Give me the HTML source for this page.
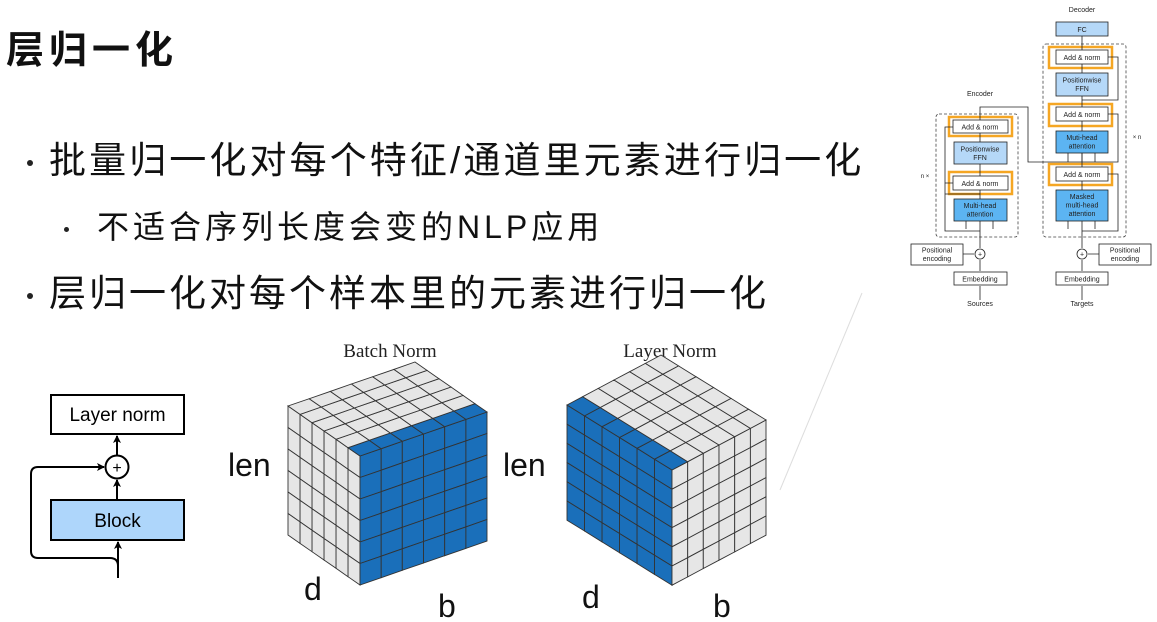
<!DOCTYPE html>
<html><head><meta charset="utf-8"><style>
html,body{margin:0;padding:0;background:#fff;}
body{width:1157px;height:622px;position:relative;overflow:hidden;font-family:"Liberation Sans","Noto Sans CJK SC",sans-serif;}
.t{position:absolute;white-space:nowrap;color:#111;line-height:1;}
.d{position:absolute;width:6px;height:6px;border-radius:50%;background:#222;}
</style></head><body>
<div class="t" style="left:6px;top:32px;font-size:38px;font-weight:bold;letter-spacing:5px;">层归一化</div>
<div class="d" style="left:27px;top:160px;"></div>
<div class="t" style="left:49px;top:142px;font-size:37px;letter-spacing:3.1px;">批量归一化对每个特征/通道里元素进行归一化</div>
<div class="d" style="left:64px;top:227px;width:5px;height:5px;"></div>
<div class="t" style="left:97px;top:211px;font-size:32px;letter-spacing:4px;">不适合序列长度会变的NLP应用</div>
<div class="d" style="left:27px;top:293px;"></div>
<div class="t" style="left:49px;top:275px;font-size:37px;letter-spacing:3px;">层归一化对每个样本里的元素进行归一化</div>

<svg id="s" width="1157" height="622" style="position:absolute;left:0;top:0" xmlns="http://www.w3.org/2000/svg">
<defs><marker id="ar" markerWidth="8" markerHeight="8" refX="7" refY="4" orient="auto" markerUnits="userSpaceOnUse"><path d="M0,0 L8,4 L0,8 L2,4z" fill="#000"/></marker></defs>
<line x1="862" y1="293" x2="780" y2="490" stroke="#ddd" stroke-width="1"/>
<rect x="51" y="395" width="133" height="39" fill="#fff" stroke="#000" stroke-width="2"/>
<text x="117.5" y="421" font-size="19" text-anchor="middle" font-family="Liberation Sans">Layer norm</text>
<rect x="51" y="500" width="133" height="40" fill="#aed6fb" stroke="#000" stroke-width="2"/>
<text x="117.5" y="527" font-size="19" text-anchor="middle" font-family="Liberation Sans">Block</text>
<circle cx="117" cy="467" r="11.5" fill="#fff" stroke="#000" stroke-width="2"/>
<text x="117" y="473" font-size="16" text-anchor="middle" font-family="Liberation Sans">+</text>
<line x1="118" y1="578" x2="118" y2="542" stroke="#000" stroke-width="2" marker-end="url(#ar)"/>
<line x1="117" y1="499" x2="117" y2="480" stroke="#000" stroke-width="2" marker-end="url(#ar)"/>
<line x1="117" y1="455" x2="117" y2="436" stroke="#000" stroke-width="2" marker-end="url(#ar)"/>
<path d="M118,578 L118,566 Q118,558 110,558 L38,558 Q31,558 31,551 L31,474 Q31,467 38,467 L104,467" fill="none" stroke="#000" stroke-width="2" marker-end="url(#ar)"/>
<text x="390" y="357" font-size="19" text-anchor="middle" font-family="Liberation Serif" fill="#222">Batch Norm</text>
<text x="670" y="357" font-size="19" text-anchor="middle" font-family="Liberation Serif" fill="#222">Layer Norm</text>
<text x="228" y="476" font-size="32" font-family="Liberation Sans" fill="#111">len</text>
<text x="503" y="476" font-size="32" font-family="Liberation Sans" fill="#111">len</text>
<text x="304" y="600" font-size="32" font-family="Liberation Sans" fill="#111">d</text>
<text x="438" y="617" font-size="32" font-family="Liberation Sans" fill="#111">b</text>
<text x="582" y="608" font-size="32" font-family="Liberation Sans" fill="#111">d</text>
<text x="713" y="617" font-size="32" font-family="Liberation Sans" fill="#111">b</text>
<g id="cubes"></g>
<g font-family="Liberation Sans" font-size="7" text-anchor="middle" fill="#222" stroke-width="0.8">
<text x="980" y="96">Encoder</text>
<text x="1082" y="12">Decoder</text>
<text x="925" y="178" font-size="6">n ×</text>
<text x="1137" y="139" font-size="6">× n</text>
<rect x="936" y="114" width="82" height="123" fill="none" stroke="#444" stroke-dasharray="3,2" rx="3"/>
<rect x="1043" y="44" width="83" height="193" fill="none" stroke="#444" stroke-dasharray="3,2" rx="3"/>
<rect x="949" y="117" width="63" height="19" fill="none" stroke="#f5a623" stroke-width="2.5"/>
<rect x="953" y="120" width="55" height="13" fill="#fff" stroke="#222"/>
<text x="980" y="129.5">Add &amp; norm</text>
<rect x="954" y="142" width="53" height="22" fill="#b5d8f8" stroke="#222"/>
<text x="980" y="151.5">Positionwise</text><text x="980" y="160">FFN</text>
<rect x="949" y="172" width="63" height="22" fill="none" stroke="#f5a623" stroke-width="2.5"/>
<rect x="953" y="176" width="55" height="14" fill="#fff" stroke="#222"/>
<text x="980" y="186">Add &amp; norm</text>
<rect x="954" y="199" width="53" height="22" fill="#5cb4f2" stroke="#222"/>
<text x="980" y="208">Multi-head</text><text x="980" y="216.5">attention</text>
<rect x="911" y="244" width="52" height="21" fill="#fff" stroke="#222"/>
<text x="937" y="252.5">Positional</text><text x="937" y="261">encoding</text>
<circle cx="980" cy="254" r="5" fill="#fff" stroke="#222"/><text x="980" y="256.5">+</text>
<rect x="954" y="272" width="53" height="13" fill="#fff" stroke="#222"/>
<text x="980" y="281.5">Embedding</text>
<text x="980" y="306">Sources</text>
<rect x="1056" y="22" width="52" height="14" fill="#b5d8f8" stroke="#222"/>
<text x="1082" y="32">FC</text>
<rect x="1049" y="47" width="63" height="21" fill="none" stroke="#f5a623" stroke-width="2.5"/>
<rect x="1056" y="50" width="52" height="14" fill="#fff" stroke="#222"/>
<text x="1082" y="60">Add &amp; norm</text>
<rect x="1056" y="73" width="52" height="23" fill="#b5d8f8" stroke="#222"/>
<text x="1082" y="82.5">Positionwise</text><text x="1082" y="91">FFN</text>
<rect x="1049" y="104" width="63" height="22" fill="none" stroke="#f5a623" stroke-width="2.5"/>
<rect x="1056" y="107" width="52" height="14" fill="#fff" stroke="#222"/>
<text x="1082" y="117">Add &amp; norm</text>
<rect x="1056" y="131" width="52" height="22" fill="#5cb4f2" stroke="#222"/>
<text x="1082" y="140">Muti-head</text><text x="1082" y="148.5">attention</text>
<rect x="1049" y="164" width="63" height="21" fill="none" stroke="#f5a623" stroke-width="2.5"/>
<rect x="1056" y="167" width="52" height="14" fill="#fff" stroke="#222"/>
<text x="1082" y="177">Add &amp; norm</text>
<rect x="1056" y="190" width="52" height="31" fill="#5cb4f2" stroke="#222"/>
<text x="1082" y="199">Masked</text><text x="1082" y="207.5">multi-head</text><text x="1082" y="216">attention</text>
<rect x="1099" y="244" width="52" height="21" fill="#fff" stroke="#222"/>
<text x="1125" y="252.5">Positional</text><text x="1125" y="261">encoding</text>
<circle cx="1082" cy="254" r="5" fill="#fff" stroke="#222"/><text x="1082" y="256.5">+</text>
<rect x="1056" y="272" width="52" height="13" fill="#fff" stroke="#222"/>
<text x="1082" y="281.5">Embedding</text>
<text x="1082" y="306">Targets</text>
<g fill="none" stroke="#222" stroke-width="0.8">
<path d="M980,300 V286 M980,271 V260 M963,254 H974 M980,248 V221 M980,199 V190 M980,176 V164 M980,142 V133 M980,120 V107 H1028 V162 H1082 V153"/>
<path d="M1082,300 V286 M1082,271 V260 M1099,254 H1088 M1082,248 V221 M1082,190 V181 M1082,167 V153 M1082,131 V121 M1082,107 V96 M1082,73 V64 M1082,50 V36"/>
<path d="M980,231 H945 V183 H953 M980,194 H945 V127 H953"/>
<path d="M1082,231 H1118 V174 H1108 M1082,162 H1118 V114 H1108 M1082,100 H1118 V57 H1108"/>
<path d="M966,229 V221 M993,229 V221 M1068,229 V221 M1095,229 V221 M1068,162 V153 M1095,162 V153"/>
</g>
</g>
</svg>
<script>
(function(){
var g=document.getElementById('cubes');var ns='http://www.w3.org/2000/svg';
function poly(p,fill){var e=document.createElementNS(ns,'polygon');e.setAttribute('points',p.map(function(q){return q[0].toFixed(1)+','+q[1].toFixed(1)}).join(' '));e.setAttribute('fill',fill);e.setAttribute('stroke','#333');e.setAttribute('stroke-width','0.9');g.appendChild(e);}
function P(o,u,i,v,j){return [o[0]+u[0]*i+v[0]*j,o[1]+u[1]*i+v[1]*j];}
function face(o,u,v,col){for(var i=0;i<6;i++)for(var j=0;j<6;j++){poly([P(o,u,i,v,j),P(o,u,i+1,v,j),P(o,u,i+1,v,j+1),P(o,u,i,v,j+1)],col(i,j));}}
var B='#1a6fba',G='#e6e6e6';
var F=[360,456],a=[-12,-8.33],b=[21.17,-7.33],h=[0,21.5];
face(F,a,h,function(){return G;});
face(F,b,h,function(){return B;});
face(F,a,b,function(i,j){return i==0?B:G;});
var F2=[672,470],a2=[-17.5,-10.83],b2=[15.67,-8.33],h2=[0,19.2];
face(F2,a2,h2,function(){return B;});
face(F2,b2,h2,function(){return G;});
face(F2,a2,b2,function(i,j){return j==0?B:G;});
})();
</script>
</body></html>
